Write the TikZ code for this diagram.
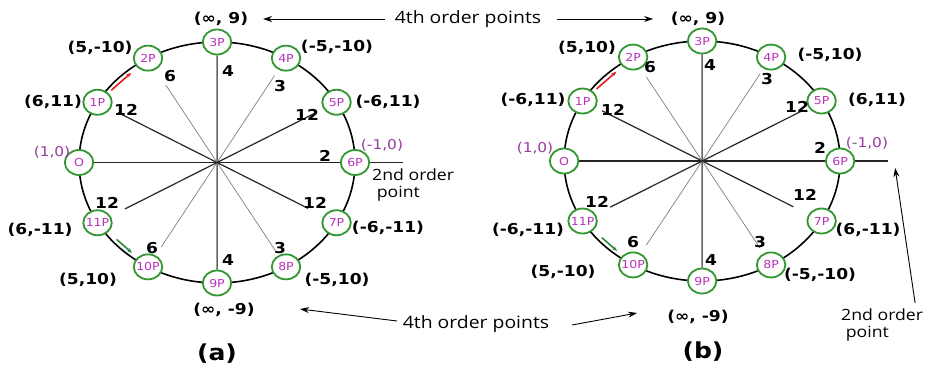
\documentclass[tikz,border=0pt]{standalone}
\usepackage{fontspec}
\setmainfont{DejaVu Sans}
\newfontfamily\osans{Open Sans}
\usetikzlibrary{calc,arrows.meta,backgrounds}
\definecolor{ptgreen}{RGB}{50,150,50}
\definecolor{ptmag}{RGB}{185,50,185}
\definecolor{lblmag}{RGB}{150,60,160}
\definecolor{arrred}{RGB}{230,30,30}
\definecolor{arrgreen}{RGB}{40,140,60}
\tikzset{
  pt/.style={circle,draw=ptgreen,line width=1.8pt,fill=white,minimum size=25pt,inner sep=0pt,
    text=ptmag,font=\fontsize{11}{12}\selectfont},
  num/.style={font=\fontsize{15}{17}\bfseries\selectfont,inner sep=0pt},
  mlab/.style={text=lblmag,font=\fontsize{13.5}{15}\selectfont,inner sep=0pt},
  txt/.style={font=\osans\fontsize{17}{17}\selectfont,inner sep=0pt},
  sectxt/.style={font=\osans\fontsize{15.5}{17}\selectfont,inner sep=0pt,align=left,anchor=north west},
  captxt/.style={font=\fontsize{22}{24}\bfseries\selectfont,inner sep=0pt},
  dark/.style={draw=black!85,line width=1.2pt},
  mid/.style={draw=black!60,line width=1.4pt},
  light/.style={draw=black!50,line width=0.7pt},
  arr/.style={-{Stealth[length=9pt,width=6pt]},line width=0.9pt},
  redarr/.style={draw=arrred,line width=1.6pt,-{Stealth[length=5pt,width=4pt]}},
  grnarr/.style={draw=arrgreen,line width=1.6pt,-{Stealth[length=5pt,width=4pt]}},
}
\begin{document}
\begin{tikzpicture}[x=0.877193pt,y=-1pt,xscale=1.14,every node/.append style={transform shape}]
\useasboundingbox (0,0) rectangle (929,373);
% ---------------- left (a)
\coordinate (L) at (217,162.5);
\foreach \i/\t in {0/O,1/1P,2/2P,3/3P,4/4P,5/5P,6/6P,7/7P,8/8P,9/9P,10/10P,11/11P}{
  \pgfmathsetmacro\ang{180-30*\i}
  \node[pt] (a\i) at ($(L)+({138*cos(\ang)},{-120.5*sin(\ang)})$) {\t};
}
\coordinate (aend) at (403,162.5);
\begin{pgfonlayer}{background}
  \fill[white] (0,0) rectangle (929,373);
  \draw[line width=1.6pt] (L) ellipse [x radius=138, y radius=120.5];
  \draw[dark] (a0) -- (aend);
  \draw[dark,shorten <=8pt,shorten >=17pt] (a1) -- (a7);
  \draw[light,shorten <=18pt,shorten >=6pt] (a2) -- (a8);
  \draw[mid] (a3) -- (a9);
  \draw[light,shorten <=7pt,shorten >=10pt] (a4) -- (a10);
  \draw[dark,shorten <=8pt,shorten >=16pt] (a5) -- (a11);
\end{pgfonlayer}
\draw[redarr,shorten <=4pt,shorten >=8pt] (a1) -- (a2);
\draw[grnarr,shorten <=11pt,shorten >=7pt] (a11) -- (a10);
% numbers
\node[num] at (126,110) {12};
\node[num] at (170,76) {6};
\node[num] at (228,71) {4};
\node[num] at (280,86) {3};
\node[num] at (307,115) {12};
\node[num] at (325,156) {2};
\node[num] at (315,203) {12};
\node[num] at (280,248) {3};
\node[num] at (228,260) {4};
\node[num] at (152,248) {6};
\node[num] at (107,203) {12};
% coordinates
\node[num] (ainft) at (221,19) {(∞, 9)};
\node[num] at (100,48) {(5,-10)};
\node[num] at (53,102) {(6,11)};
\node[mlab] at (52,152) {(1,0)};
\node[num] at (337,47) {(-5,-10)};
\node[num] at (388,102) {(-6,11)};
\node[mlab] at (382,145) {(-1,0)};
\node[sectxt] (a2nd) at (372,169) {2nd order\\\hspace{4pt}point};
\node[num] at (388,228) {(-6,-11)};
\node[num] at (337,280) {(-5,10)};
\node[num] (ainfb) at (224,310) {(∞, -9)};
\node[num] at (88,280) {(5,10)};
\node[num] at (40,230) {(6,-11)};
\node[captxt] at (217,354) {(a)};
% ---------------- right (b)
\coordinate (R) at (702,161);
\foreach \i/\t in {0/O,1/1P,2/2P,3/3P,4/4P,5/5P,6/6P,7/7P,8/8P,9/9P,10/10P,11/11P}{
  \pgfmathsetmacro\ang{180-30*\i}
  \node[pt] (b\i) at ($(R)+({138*cos(\ang)},{-120*sin(\ang)})$) {\t};
}
\coordinate (bend) at (888,161);
\begin{pgfonlayer}{background}
  \draw[line width=1.6pt] (R) ellipse [x radius=138, y radius=120];
  \draw[dark] (b0) -- (bend);
  \draw[dark,shorten <=7pt,shorten >=17pt] (b1) -- (b7);
  \draw[light,shorten <=10pt,shorten >=6pt] (b2) -- (b8);
  \draw[mid] (b3) -- (b9);
  \draw[light,shorten <=6pt,shorten >=10pt] (b4) -- (b10);
  \draw[dark,shorten <=7pt,shorten >=16pt] (b5) -- (b11);
\end{pgfonlayer}
\draw[redarr,shorten <=4pt,shorten >=8pt] (b1) -- (b2);
\draw[grnarr,shorten <=11pt,shorten >=7pt] (b11) -- (b10);
% numbers
\node[num] at (613,110) {12};
\node[num] at (650,67) {6};
\node[num] at (710,65) {4};
\node[num] at (767,79) {3};
\node[num] at (797,107) {12};
\node[num] at (820,148) {2};
\node[num] at (805,195) {12};
\node[num] at (760,242) {3};
\node[num] at (711,260) {4};
\node[num] at (633,242) {6};
\node[num] at (597,202) {12};
% coordinates
\node[num] (binft) at (698,19) {(∞, 9)};
\node[num] at (587,48) {(5,10)};
\node[num] at (533,100) {(-6,11)};
\node[mlab] at (535,148) {(1,0)};
\node[num] at (830,55) {(-5,10)};
\node[num] at (877,100) {(6,11)};
\node[mlab] at (867,143) {(-1,0)};
\node[num] at (868,230) {(6,-11)};
\node[num] at (820,275) {(-5,-10)};
\node[num] (binfb) at (698,317) {(∞, -9)};
\node[num] at (563,272) {(5,-10)};
\node[num] at (528,230) {(-6,-11)};
\node[sectxt] (b2nd) at (841,309) {2nd order\\\hspace{4pt}point};
\node[captxt] at (703,352) {(b)};
% ---------------- shared labels and arrows
\node[txt] (top4) at (468,19) {4th order points};
\node[txt] (bot4) at (476,324) {4th order points};
\coordinate (t1s) at (385,19);  \coordinate (t1e) at (263,19);
\coordinate (t2s) at (557,19);  \coordinate (t2e) at (653,19);
\coordinate (b1s) at (397,321); \coordinate (b1e) at (300,309);
\coordinate (b2s) at (572,325); \coordinate (b2e) at (637,313);
\coordinate (s2s) at (915,303); \coordinate (s2e) at (895,168);
\draw[arr] (t1s) -- (t1e);
\draw[arr] (t2s) -- (t2e);
\draw[arr] (b1s) -- (b1e);
\draw[arr] (b2s) -- (b2e);
\draw[arr] (s2s) -- (s2e);
\end{tikzpicture}
\end{document}
